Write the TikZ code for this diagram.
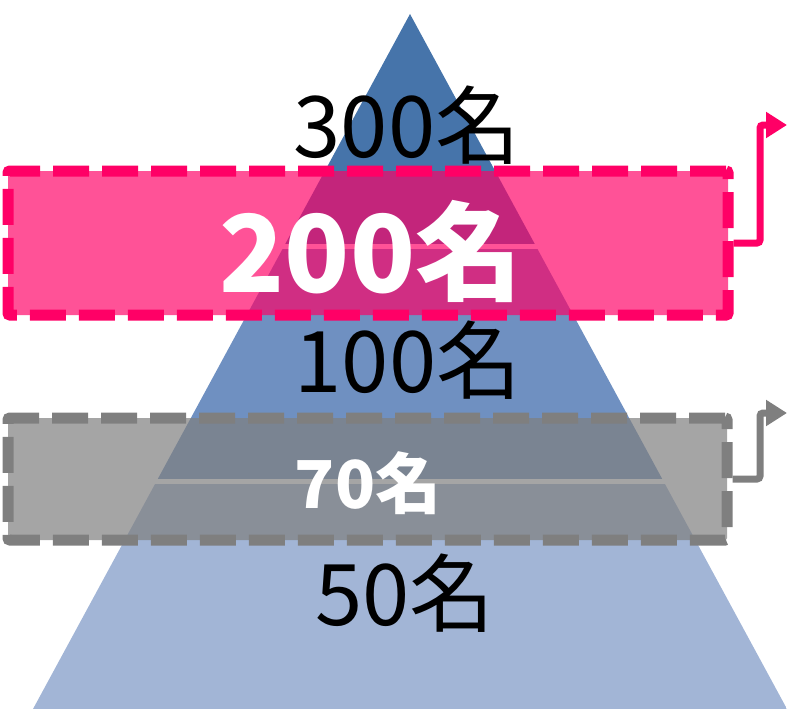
\documentclass[tikz,border=0pt]{standalone}
\usepackage{fontspec}
\setmainfont{Noto Sans CJK JP}
\usetikzlibrary{arrows.meta}
\definecolor{pyrA}{RGB}{70,116,170}
\definecolor{pyrB}{RGB}{111,144,193}
\definecolor{pyrC}{RGB}{162,181,214}
\definecolor{pinkc}{RGB}{255,0,102}
\definecolor{grayc}{RGB}{127,127,127}
\begin{document}
\begin{tikzpicture}[x=1pt,y=-1pt,
  lbl/.style={font=\fontsize{85}{85}\selectfont, text=black, anchor=base, inner sep=0pt},
  blbl/.style={font=\fontsize{107}{107}\selectfont\bfseries, text=white, anchor=base, inner sep=0pt},
  hibox/.style={draw, line width=11pt, dash pattern=on 36pt off 13pt, inner sep=0pt, rounded corners=2pt},
  conn/.style={line width=7pt, rounded corners=3pt, -{Triangle[length=21pt,width=25pt]}}]
\useasboundingbox (0,0) rectangle (787,709);
% pyramid
\begin{scope}
  \clip (410,14) -- (33,709) -- (787,709) -- cycle;
  \fill[pyrA] (0,0) rectangle (787,243.5);
  \fill[pyrB] (0,248.5) rectangle (787,478.5);
  \fill[pyrC] (0,483.5) rectangle (787,709);
\end{scope}
% black labels
\node[lbl] (t300) at (407,157) {300名};
\node[lbl] (t100) at (408,392) {100名};
\node[lbl] (t50) at (405,625) {50名};
% highlight boxes
\node[hibox, draw=pinkc, fill=pinkc, fill opacity=0.68, minimum width=720pt, minimum height=144pt] (pinkbox) at (368,243) {};
\node[hibox, draw=grayc, fill=grayc, fill opacity=0.7, minimum width=719pt, minimum height=122pt] (graybox) at (367.5,479) {};
% connectors
\coordinate (pinkend) at (787,125);
\coordinate (grayend) at (787,413);
\draw[conn, pinkc] (pinkbox.east) -| (760,125) -- (pinkend);
\draw[conn, grayc] (graybox.east) -| (760,413) -- (grayend);
% white labels
\node[blbl] (t200) at (371,292) {200名};
\node[blbl, font=\fontsize{66}{66}\selectfont\bfseries] (t70) at (368,508) {70名};
\end{tikzpicture}
\end{document}
